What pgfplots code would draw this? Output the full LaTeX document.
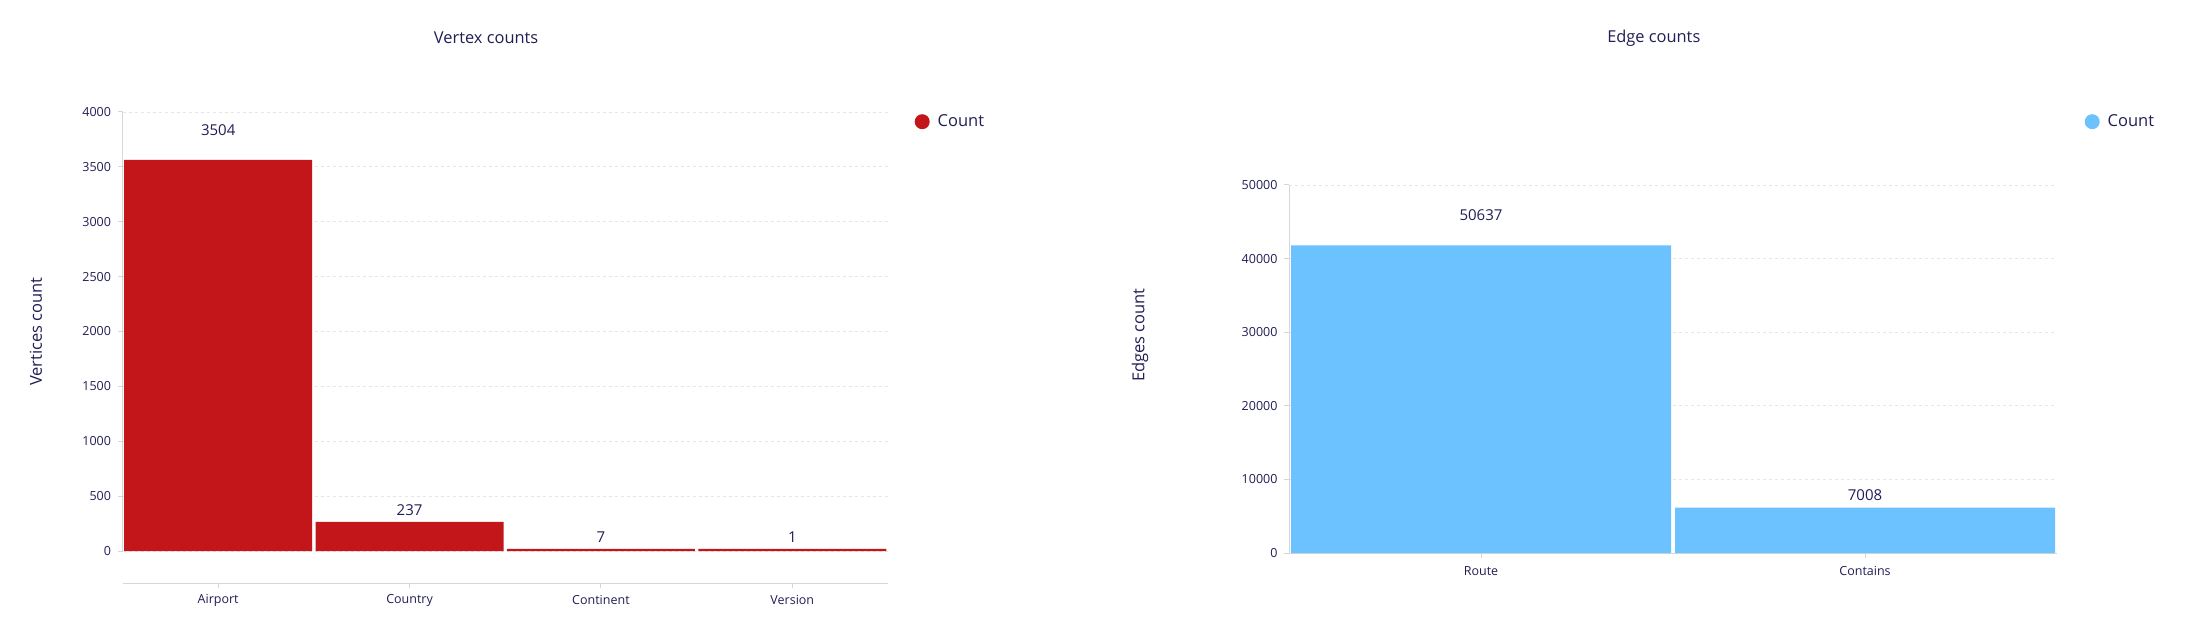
\documentclass[border=0pt]{standalone}
\usepackage{fontspec}
\setmainfont{Open Sans}
\usepackage{pgfplots}
\usepackage{pgfplotstable}
\pgfplotsset{compat=1.18}

\definecolor{vred}{RGB}{194,22,26}
\definecolor{eblue}{RGB}{107,194,255}
\definecolor{txt}{RGB}{33,30,85}
\definecolor{gridgray}{RGB}{230,230,230}
\definecolor{axisgray}{RGB}{215,215,215}

% bar height, printed label, label offset above bar top (pt)
\pgfplotstableread{
x y lab off
0 3563 3504 30
1 265 237 12
2 20 7 11.5
3 20 1 11.5
}\vertextable

\pgfplotstableread{
x y lab off
0 41800 50637 30
1 6155 7008 12.7
}\edgetable

\pgfplotsset{
  countchart/.style={
    scale only axis,
    anchor=south west,
    axis lines*=left,
    ymin=0,
    ybar,
    tick align=outside,
    major tick length=5pt,
    tick style={axisgray, line width=1pt},
    axis line style={axisgray, line width=1pt},
    ymajorgrids,
    grid style={gridgray, dashed, line width=0.8pt},
    /pgf/number format/1000 sep={},
    /pgf/number format/assume math mode=true,
    tick label style={font=\fontsize{12.5}{15}\selectfont},
    yticklabel style={xshift=-3pt},
    legend style={draw=none, fill=none, inner sep=0pt, column sep=8pt,
      nodes={inner sep=0pt, font=\fontsize{16.5}{20}\selectfont}},
    every node near coord/.append style={font=\fontsize{15}{18}\selectfont},
  },
}

\begin{document}
\color{txt}
\begin{tikzpicture}
\useasboundingbox (0,0) rectangle (2194pt,640pt);

\begin{axis}[
  countchart,
  at={(122.5pt,89pt)},
  width=765.5pt, height=439pt,
  ymax=4000, ytick={0,500,...,4000},
  xmin=-0.5, xmax=3.5,
  bar width=188pt,
  xtick={0,1,2,3},
  xticklabels={Airport, Country, Continent, Version},
  x axis line style={yshift=-32pt},
  xtick style={yshift=-32pt},
  xticklabel style={anchor=center, yshift=-44pt},
  title={Vertex counts},
  title style={at={([yshift=68pt]axis description cs:0.475,1)}, anchor=center,
    font=\fontsize{16.4}{20}\selectfont},
  ylabel={Vertices count},
  ylabel style={at={([xshift=-86.5pt]axis description cs:0,0.5)}, anchor=center,
    font=\fontsize{16.5}{19}\selectfont},
  legend style={at={([xshift=26.5pt, yshift=-9.7pt]axis description cs:1,1)}, anchor=west},
  legend image code/.code={\fill[vred] (7.5pt,0pt) circle (7.5pt);},
]
\addplot[fill=vred, draw=none,
  nodes near coords, point meta=explicit symbolic,
  visualization depends on={\thisrow{off}\as\off},
  every node near coord/.append style={anchor=center, yshift=\off pt}]
  table[x=x, y=y, meta=lab] {\vertextable};
\addlegendentry{Count}
\end{axis}

\begin{axis}[
  countchart,
  at={(1289pt,87pt)},
  width=768pt, height=368pt,
  ymax=50000, ytick={0,10000,...,50000},
  scaled y ticks=false,
  xmin=-0.5, xmax=1.5,
  bar width=380pt,
  xtick={0,1},
  xticklabels={Route, Contains},
  xticklabel style={anchor=center, yshift=-13pt},
  title={Edge counts},
  title style={at={([yshift=141pt]axis description cs:0.475,1)}, anchor=center,
    font=\fontsize{16.4}{20}\selectfont},
  ylabel={Edges count},
  ylabel style={at={([xshift=-149pt]axis description cs:0,0.592)}, anchor=center,
    font=\fontsize{16.5}{19}\selectfont},
  legend style={at={([xshift=27.5pt, yshift=63.3pt]axis description cs:1,1)}, anchor=west},
  legend image code/.code={\fill[eblue] (7.5pt,0pt) circle (7.5pt);},
]
\addplot[fill=eblue, draw=none,
  nodes near coords, point meta=explicit symbolic,
  visualization depends on={\thisrow{off}\as\off},
  every node near coord/.append style={anchor=center, yshift=\off pt}]
  table[x=x, y=y, meta=lab] {\edgetable};
\addlegendentry{Count}
\end{axis}
\end{tikzpicture}
\end{document}
